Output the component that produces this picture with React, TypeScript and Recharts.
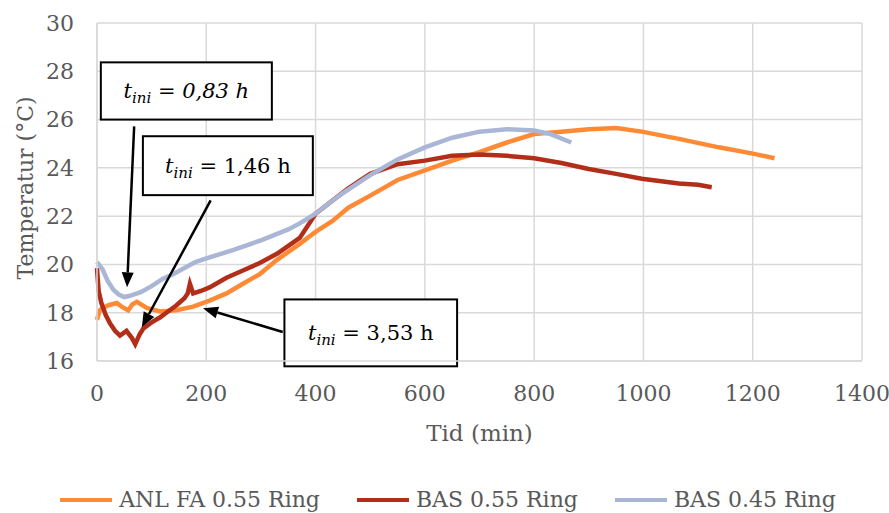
import React from 'react';
import {
  LineChart,
  Line,
  XAxis,
  YAxis,
  CartesianGrid,
  Legend,
  ReferenceArea,
  ReferenceLine,
} from 'recharts';

// ANL FA 0.55 Ring
const anlTime = [0, 5, 11, 20, 36, 45, 57, 65, 73, 91, 115, 145, 176, 206, 237, 267, 298, 330, 371, 400, 431, 460, 500, 550, 600, 650, 700, 750, 800, 850, 900, 950, 997, 1065, 1138, 1198, 1240];
const anlTemp = [17.7, 18.1, 18.2, 18.3, 18.4, 18.25, 18.1, 18.35, 18.45, 18.2, 18.05, 18.1, 18.25, 18.5, 18.8, 19.2, 19.6, 20.2, 20.85, 21.35, 21.8, 22.35, 22.85, 23.5, 23.9, 24.3, 24.65, 25.05, 25.4, 25.5, 25.6, 25.65, 25.5, 25.2, 24.85, 24.6, 24.4];

// BAS 0.55 Ring
const basTime = [0, 3, 8, 16, 24, 33, 42, 54, 64, 70, 78, 85, 100, 115, 130, 145, 160, 166, 170, 176, 190, 206, 237, 267, 297, 330, 371, 400, 431, 460, 500, 550, 600, 650, 700, 750, 800, 850, 900, 950, 997, 1065, 1100, 1125];
const basTemp = [19.85, 18.9, 18.4, 17.9, 17.55, 17.25, 17.05, 17.25, 16.95, 16.7, 17.1, 17.35, 17.6, 17.8, 18.05, 18.3, 18.6, 18.8, 19.2, 18.8, 18.9, 19.05, 19.45, 19.75, 20.05, 20.45, 21.1, 22.1, 22.65, 23.15, 23.75, 24.15, 24.3, 24.5, 24.55, 24.5, 24.4, 24.2, 23.95, 23.75, 23.55, 23.35, 23.3, 23.2];

// BAS 0.45 Ring
const bas45Time = [0, 10, 20, 30, 40, 50, 60, 80, 100, 120, 140, 160, 180, 200, 250, 300, 350, 371, 400, 431, 450, 500, 550, 600, 650, 700, 750, 800, 830, 868];
const bas45Temp = [20.1, 19.8, 19.3, 18.95, 18.75, 18.65, 18.7, 18.85, 19.1, 19.4, 19.6, 19.85, 20.1, 20.25, 20.6, 21.0, 21.45, 21.7, 22.1, 22.65, 22.95, 23.7, 24.35, 24.85, 25.25, 25.5, 25.6, 25.55, 25.4, 25.05];

const xTicks = [0, 200, 400, 600, 800, 1000, 1200, 1400];
const yTicks = [16, 18, 20, 22, 24, 26, 28, 30];

const toPoints = (ts: number[], vs: number[]) => ts.map((t, i) => ({ t, v: vs[i] }));

const series = [
  { name: 'ANL FA 0.55 Ring', color: '#FF8A36', data: toPoints(anlTime, anlTemp) },
  { name: 'BAS 0.55 Ring', color: '#B32E18', data: toPoints(basTime, basTemp) },
  { name: 'BAS 0.45 Ring', color: '#AAB6D6', data: toPoints(bas45Time, bas45Temp) },
];

// annotation boxes (data coords) and their arrows
const boxes = [
  { x1: 7, x2: 320, y1: 26.0, y2: 28.37, value: '0,83 h', italic: true },
  { x1: 84, x2: 395, y1: 22.87, y2: 25.31, value: '1,46 h', italic: false },
  { x1: 343, x2: 659, y1: 15.78, y2: 18.55, value: '3,53 h', italic: false },
];
const arrows = [
  { from: { x: 68, y: 25.72 }, to: { x: 55, y: 19.05 } },
  { from: { x: 208, y: 22.65 }, to: { x: 82, y: 17.4 } },
  { from: { x: 340, y: 17.2 }, to: { x: 194, y: 18.19 } },
];

const FONT = '"DejaVu Serif", serif';
const GREY = '#595959';
const FS = 22;

const Arrow = (props: any) => {
  const { x1, y1, x2, y2 } = props;
  const ang = Math.atan2(y2 - y1, x2 - x1);
  const len = 15;
  const half = 6;
  const bx = x2 - len * Math.cos(ang);
  const by = y2 - len * Math.sin(ang);
  const px = -Math.sin(ang) * half;
  const py = Math.cos(ang) * half;
  return (
    <g>
      <line x1={x1} y1={y1} x2={bx} y2={by} stroke="#000" strokeWidth={2.5} />
      <polygon points={`${x2},${y2} ${bx + px},${by + py} ${bx - px},${by - py}`} fill="#000" />
    </g>
  );
};

const makeBox = (value: string, italic: boolean) => (props: any) => {
  const { x, y, width, height } = props;
  const cx = x + width / 2;
  const cy = y + height / 2;
  return (
    <g>
      <rect x={x} y={y} width={width} height={height} fill="#fff" stroke="#000" strokeWidth={2} />
      <text x={cx} y={cy + 7} textAnchor="middle" fontFamily={FONT} fontSize={21} fill="#000">
        <tspan fontStyle="italic">t</tspan>
        <tspan fontStyle="italic" fontSize={15} dy={5}>ini</tspan>
        <tspan dy={-5} fontStyle={italic ? 'italic' : 'normal'}>{' = ' + value}</tspan>
      </text>
    </g>
  );
};

const YLabel = (props: any) => {
  const vb = props.viewBox || { y: 23, height: 338 };
  const cy = vb.y + vb.height / 2 - 4;
  return (
    <text
      x={25}
      y={cy}
      transform={`rotate(-90, 25, ${cy})`}
      textAnchor="middle"
      dominantBaseline="central"
      fontFamily={FONT}
      fontSize={FS}
      fill={GREY}
    >
      Temperatur (°C)
    </text>
  );
};

const LegendContent = () => (
  <div
    style={{
      height: 40,
      display: 'flex',
      justifyContent: 'center',
      alignItems: 'flex-end',
      gap: 37,
      fontFamily: FONT,
      fontSize: FS,
      color: GREY,
      lineHeight: '24px',
      paddingLeft: 34,
      boxSizing: 'border-box',
    }}
  >
    {series.map((s) => (
      <div key={s.name} style={{ display: 'flex', alignItems: 'center', marginBottom: 1 }}>
        <span style={{ display: 'inline-block', width: 52, height: 4, background: s.color, marginRight: 7 }} />
        <span>{s.name}</span>
      </div>
    ))}
  </div>
);

export default function App() {
  return (
    <div style={{ position: 'absolute', left: 0, top: 0, background: '#fff' }}>
      <LineChart width={889} height={513} margin={{ top: 23, right: 27, left: 0, bottom: 0 }}>
        <CartesianGrid stroke="#d9d9d9" strokeWidth={1.5} />
        <XAxis
          type="number"
          dataKey="t"
          domain={[0, 1400]}
          ticks={xTicks}
          height={112}
          tickLine={false}
          axisLine={{ stroke: '#d9d9d9', strokeWidth: 1.5 }}
          tickSize={0}
          tickMargin={24}
          tick={{ fill: GREY, fontSize: FS, fontFamily: FONT }}
          allowDuplicatedCategory={false}
          label={{ value: 'Tid (min)', position: 'insideBottom', offset: 32, fill: GREY, fontSize: FS + 1, fontFamily: FONT }}
        />
        <YAxis
          type="number"
          domain={[16, 30]}
          ticks={yTicks}
          width={97}
          tickLine={false}
          axisLine={{ stroke: '#d9d9d9', strokeWidth: 1.5 }}
          tickSize={0}
          tickMargin={23}
          tick={{ fill: GREY, fontSize: FS, fontFamily: FONT }}
          label={<YLabel />}
        />
        {series.map((s) => (
          <Line
            key={s.name}
            data={s.data}
            dataKey="v"
            name={s.name}
            type="linear"
            stroke={s.color}
            strokeWidth={4.5}
            dot={false}
            isAnimationActive={false}
          />
        ))}
        {boxes.map((b, i) => (
          <ReferenceArea
            key={'box' + i}
            x1={b.x1}
            x2={b.x2}
            y1={b.y1}
            y2={b.y2}
            ifOverflow="visible"
            shape={makeBox(b.value, b.italic)}
          />
        ))}
        {arrows.map((a, i) => (
          <ReferenceLine
            key={'arr' + i}
            segment={[a.from, a.to]}
            ifOverflow="visible"
            shape={Arrow}
          />
        ))}
        <Legend verticalAlign="bottom" content={<LegendContent />} />
      </LineChart>
    </div>
  );
}
